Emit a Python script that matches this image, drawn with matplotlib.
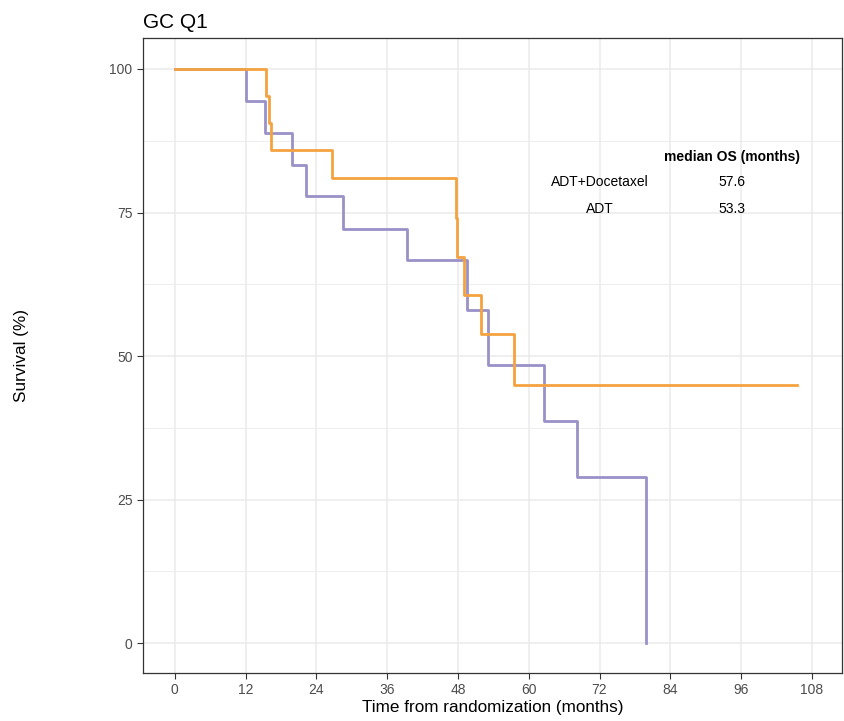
import matplotlib.pyplot as plt

plt.rcParams['font.family'] = ['Liberation Sans', 'DejaVu Sans']

# Kaplan-Meier steps (time in months, survival in %)
adt_doc_time = [0, 15.4, 15.9, 16.3, 26.6, 47.6, 47.8, 49.0, 51.9, 57.5, 105.5]
adt_doc_surv = [100, 95.3, 90.6, 85.9, 81.0, 74.0, 67.3, 60.6, 53.8, 44.9, 44.9]

adt_time = [0, 12.1, 15.3, 19.8, 22.3, 28.5, 39.4, 49.5, 53.1, 62.6, 68.2, 79.9]
adt_surv = [100, 94.4, 88.9, 83.3, 77.8, 72.2, 66.7, 58.0, 48.4, 38.7, 28.9, 0]

groups = ['ADT+Docetaxel', 'ADT']
median_os = ['57.6', '53.3']

x_ticks = list(range(0, 109, 12))
y_ticks = [0, 25, 50, 75, 100]
y_minor = [12.5, 37.5, 62.5, 87.5]

orange = '#F4A23F'
purple = '#9B91C9'

fig = plt.figure(figsize=(8.44, 7.21), dpi=100)
ax = fig.add_axes([0.1694, 0.0666, 0.8282, 0.8807])

ax.step(adt_time, adt_surv, where='post', color=purple, lw=2, zorder=3)
ax.step(adt_doc_time, adt_doc_surv, where='post', color=orange, lw=2, zorder=4)

ax.set_xlim(-5.4, 113.1)
ax.set_ylim(-5.2, 105.4)
ax.set_xticks(x_ticks)
ax.set_yticks(y_ticks)
ax.set_yticks(y_minor, minor=True)

ax.grid(True, which='major', color='#EBEBEB', lw=1.1, zorder=0)
ax.grid(True, which='minor', axis='y', color='#EBEBEB', lw=0.6, zorder=0)
ax.set_axisbelow(True)
ax.tick_params(which='major', length=4, color='#333333', labelcolor='#4D4D4D',
               labelsize=10, width=0.8)
ax.tick_params(which='minor', length=0)
for s in ax.spines.values():
    s.set_color('#333333')
    s.set_linewidth(0.9)

ax.set_xlabel('Time from randomization (months)', fontsize=12.3, labelpad=2)
ax.set_ylabel('Survival (%)', fontsize=12.3, labelpad=58)
ax.set_title('GC Q1', loc='left', fontsize=15, pad=7, x=0.0)

# median OS table
ax.text(94.4, 84.7, 'median OS (months)', ha='center', va='center',
        fontsize=10, fontweight='bold')
rows_y = [80.3, 75.6]
for g, m, yy in zip(groups, median_os, rows_y):
    ax.text(72.1, yy, g, ha='center', va='center', fontsize=10)
    ax.text(94.4, yy, m, ha='center', va='center', fontsize=10)

fig.savefig('out.png', dpi=100)
plt.close(fig)
